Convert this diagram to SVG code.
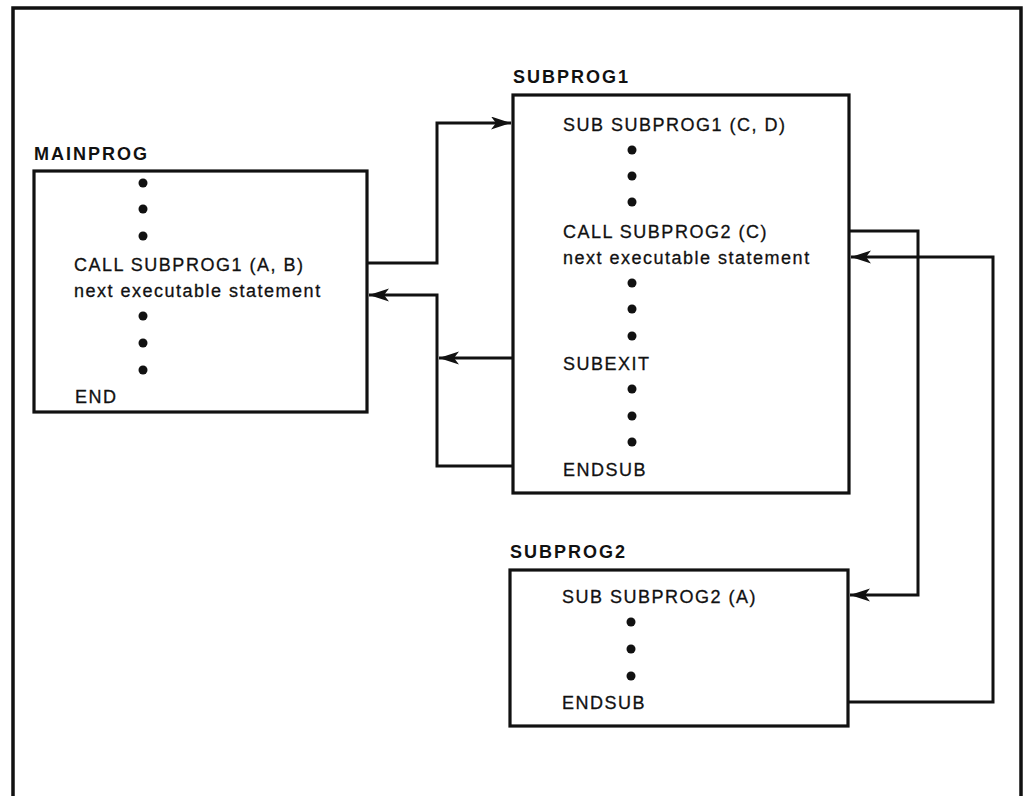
<svg xmlns="http://www.w3.org/2000/svg" width="1029" height="796" viewBox="0 0 1029 796">
  <style>
    .frame { fill: none; stroke: #111; stroke-width: 3.5; }
    .box { fill: #fff; stroke: #111; stroke-width: 3.2; }
    .conn { fill: none; stroke: #111; stroke-width: 3; stroke-linejoin: miter; }
    .lbl { font-family: "Liberation Sans", Arial, sans-serif; font-weight: bold; font-size: 18px; letter-spacing: 2px; fill: #111; }
    .txt { font-family: "Liberation Sans", Arial, sans-serif; font-size: 18px; letter-spacing: 1.5px; fill: #111; stroke: #111; stroke-width: 0.3; }
    .dot { fill: #111; }
  </style>
  <defs>
    <marker id="arr" markerUnits="userSpaceOnUse" markerWidth="22" markerHeight="14" refX="20" refY="6.5" orient="auto">
      <path d="M0,0 L20,6.5 L0,13 L5,6.5 Z" fill="#111"/>
    </marker>
  </defs>
  <rect width="1029" height="796" fill="#fff"/>
  <path class="frame" d="M13,796 L13,8 L1021,8 L1021,796"/>

  <g id="connectors">
    <path class="conn" d="M367,263 H437 V123 H511" marker-end="url(#arr)"/>
    <path class="conn" d="M513,466 H437 V295 H369" marker-end="url(#arr)"/>
    <path class="conn" d="M513,358 H439" marker-end="url(#arr)"/>
    <path class="conn" d="M849,231 H918 V595 H850" marker-end="url(#arr)"/>
    <path class="conn" d="M848,702 H993 V257 H851" marker-end="url(#arr)"/>
  </g>

  <g id="mainprog">
    <text class="lbl" x="34" y="160">MAINPROG</text>
    <rect class="box" x="34" y="171" width="333" height="241"/>
    <circle class="dot" cx="143" cy="183" r="4.5"/>
    <circle class="dot" cx="143" cy="209" r="4.5"/>
    <circle class="dot" cx="143" cy="236" r="4.5"/>
    <text class="txt" x="74" y="271">CALL SUBPROG1 (A, B)</text>
    <text class="txt" x="74" y="297">next executable statement</text>
    <circle class="dot" cx="143" cy="316" r="4.5"/>
    <circle class="dot" cx="143" cy="343" r="4.5"/>
    <circle class="dot" cx="143" cy="370" r="4.5"/>
    <text class="txt" x="75" y="403">END</text>
  </g>

  <g id="subprog1">
    <text class="lbl" x="513" y="83">SUBPROG1</text>
    <rect class="box" x="513" y="95" width="336" height="398"/>
    <text class="txt" x="563" y="131">SUB SUBPROG1 (C, D)</text>
    <circle class="dot" cx="632" cy="150" r="4.5"/>
    <circle class="dot" cx="632" cy="176" r="4.5"/>
    <circle class="dot" cx="632" cy="202" r="4.5"/>
    <text class="txt" x="563" y="238">CALL SUBPROG2 (C)</text>
    <text class="txt" x="563" y="264">next executable statement</text>
    <circle class="dot" cx="632" cy="283" r="4.5"/>
    <circle class="dot" cx="632" cy="309" r="4.5"/>
    <circle class="dot" cx="632" cy="336" r="4.5"/>
    <text class="txt" x="563" y="370">SUBEXIT</text>
    <circle class="dot" cx="632" cy="389" r="4.5"/>
    <circle class="dot" cx="632" cy="416" r="4.5"/>
    <circle class="dot" cx="632" cy="442" r="4.5"/>
    <text class="txt" x="563" y="476">ENDSUB</text>
  </g>

  <g id="subprog2">
    <text class="lbl" x="510" y="558">SUBPROG2</text>
    <rect class="box" x="510" y="570" width="338" height="156"/>
    <text class="txt" x="562" y="603">SUB SUBPROG2 (A)</text>
    <circle class="dot" cx="631" cy="622" r="4.5"/>
    <circle class="dot" cx="631" cy="649" r="4.5"/>
    <circle class="dot" cx="631" cy="676" r="4.5"/>
    <text class="txt" x="562" y="709">ENDSUB</text>
  </g>
</svg>
